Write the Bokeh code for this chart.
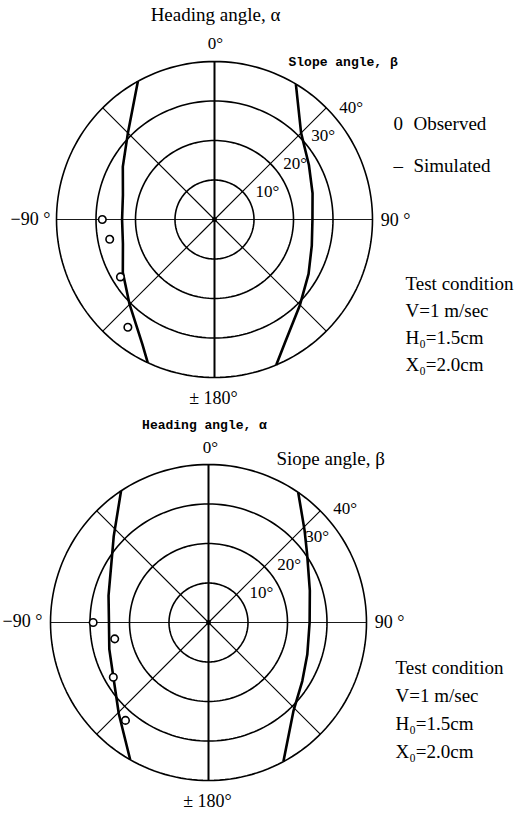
import numpy as np
from bokeh.plotting import figure
from bokeh.models import Range1d
from bokeh.core.properties import value
from bokeh.embed import file_html
from bokeh.resources import INLINE

# ---- polar grid (slope angle rings, heading angle spokes) ----
ring_beta = [10, 20, 30, 40]
ring_labels = ["10°", "20°", "30°", "40°"]
spoke_alpha = [0, 45, 90, 135, 180, 225, 270, 315]

# ---- upper diagram ----
top_sim_right_alpha = [31, 45, 60, 75, 90, 105, 120, 135, 150, 157]
top_sim_right_beta = [40, 31.0, 27.6, 25.7, 24.8, 25.5, 27.5, 30.6, 35.8, 40]
top_sim_left_alpha = [-29, -45, -60, -75, -90, -105, -120, -135, -150, -155]
top_sim_left_beta = [40, 31, 26.8, 24.0, 23.4, 24.0, 26.8, 30.4, 36.5, 40]
top_obs_alpha = [-90, -100.7, -121.4, -141.2]
top_obs_beta = [28.4, 27.0, 27.9, 35.0]

# ---- lower diagram ----
bot_sim_right_alpha = [34.6, 46.2, 55.2, 72.5, 90, 108, 122, 136, 151.7]
bot_sim_right_beta = [40, 33.7, 30.4, 26.9, 25.6, 26.3, 28, 31, 40]
bot_sim_left_alpha = [-33.6, -47.8, -56, -75, -90, -105, -121.5, -135.5, -150.3]
bot_sim_left_beta = [40, 32.4, 29.5, 26.2, 25.2, 26, 28.1, 32.4, 40]
bot_obs_alpha = [-90, -99.9, -119.9, -139.7]
bot_obs_beta = [29.2, 24.1, 27.8, 32.5]

condition_lines = ["Test condition", "V=1 m/sec", "H\u2080=1.5cm", "X\u2080=2.0cm"]

W, H = 519, 813
PX_PER_DEG = 3.95
SERIF = value("Liberation Serif")
MONO = value("Liberation Mono")

p = figure(width=W, height=H, output_backend="svg", toolbar_location=None,
           x_range=Range1d(0, W), y_range=Range1d(H, 0), min_border=0)
p.axis.visible = False
p.grid.visible = False
p.outline_line_color = None
p.background_fill_color = "white"


def to_xy(alpha, beta, cx, cy):
    a = np.radians(np.asarray(alpha, dtype=float))
    r = np.asarray(beta, dtype=float) * PX_PER_DEG
    return cx + r * np.sin(a), cy - r * np.cos(a)


def draw_polar(cx, cy, sim_l, sim_r, obs, lab_dy):
    outer = max(ring_beta)
    # rings
    t = np.arange(0, 361, 2)
    xs, ys = [], []
    for b in ring_beta:
        x, y = to_xy(t, np.full(t.shape, b), cx, cy)
        xs.append(list(x)); ys.append(list(y))
    p.multi_line(xs, ys, line_color="black", line_width=1.6)
    # spokes
    for a in spoke_alpha:
        x, y = to_xy([a, a], [0, outer], cx, cy)
        lw = 2.0 if a % 180 == 0 else (0.9 if a % 90 == 0 else 1.1)
        p.line(list(x), list(y), line_color="black", line_width=lw)
    p.scatter([cx], [cy], size=4, color="black")
    # ring labels along the 45 degree spoke
    lx, ly = to_xy([45] * len(ring_beta), ring_beta, cx, cy)
    p.text(list(lx + 13), list(ly + lab_dy), text=ring_labels, text_font=SERIF,
           text_font_size="17px", text_align="left", text_baseline="middle",
           text_color="black")
    # simulated boundaries
    for al, be in (sim_l, sim_r):
        x, y = to_xy(al, be, cx, cy)
        p.line(list(x), list(y), line_color="black", line_width=2.6,
               line_join="round")
    # observed points
    ox, oy = to_xy(obs[0], obs[1], cx, cy)
    p.scatter(list(ox), list(oy), marker="circle", size=7.5, fill_color="white",
              line_color="black", line_width=1.6)


def label(x, y, s, size="19px", align="center", font=SERIF, style="normal"):
    p.text([x], [y], text=[s], text_font=font, text_font_size=size,
           text_align=align, text_baseline="middle", text_color="black",
           text_font_style=style)


# upper diagram
cx1, cy1 = 214, 219
draw_polar(cx1, cy1, (top_sim_left_alpha, top_sim_left_beta),
           (top_sim_right_alpha, top_sim_right_beta),
           (top_obs_alpha, top_obs_beta), 0)
label(215, 14, "Heading angle, α")
label(215, 43, "0°", size="17px")
label(288, 62, "Slope angle, β", size="13px", align="left", font=MONO, style="bold")
label(30, 218, "−90 °", size="18px")
label(395, 219, "90 °", size="18px")
label(213, 397, "± 180°", size="18px")
label(393, 123, "0", align="left")
label(413, 123, "Observed", align="left")
label(393, 165, "–", align="left")
label(413, 165, "Simulated", align="left")
for i, s in enumerate(condition_lines):
    label(405, 283 + i * 27, s, align="left")

# lower diagram
cx2, cy2 = 208, 622
draw_polar(cx2, cy2, (bot_sim_left_alpha, bot_sim_left_beta),
           (bot_sim_right_alpha, bot_sim_right_beta),
           (bot_obs_alpha, bot_obs_beta), -2)
label(204, 425, "Heading angle, α", size="13px", font=MONO, style="bold")
label(210, 447, "0°", size="17px")
label(276, 458, "Siope angle, β", align="left")
label(22, 620, "−90 °", size="18px")
label(389, 621, "90 °", size="18px")
label(207, 800, "± 180°", size="18px")
for i, s in enumerate(condition_lines):
    label(395, 667 + i * 28, s, align="left")

open("out.html", "w").write(file_html(p, INLINE))
